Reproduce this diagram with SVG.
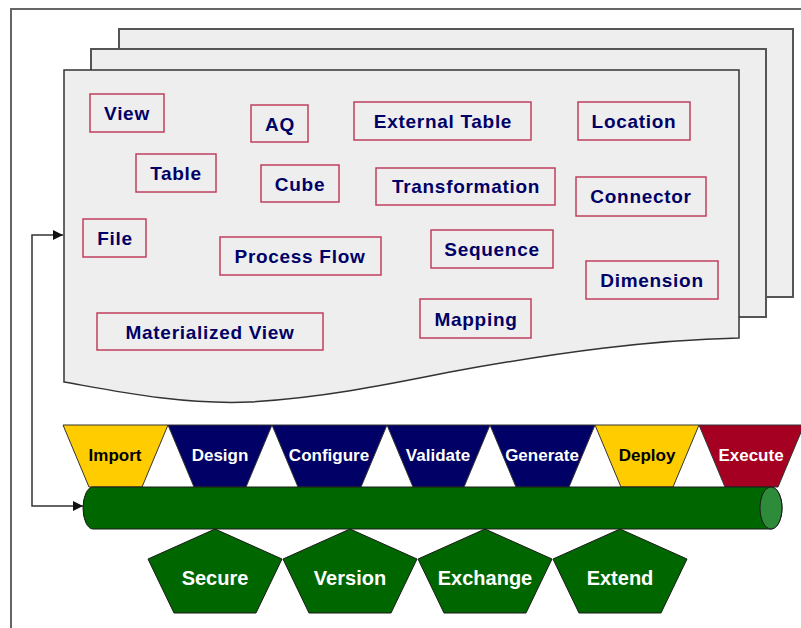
<svg xmlns="http://www.w3.org/2000/svg" width="801" height="628" viewBox="0 0 801 628">
  <style>
    .page { fill: #eeeeee; stroke: #555555; stroke-width: 2; }
    .front { fill: #eeeeee; stroke: #333333; stroke-width: 1.5; }
    .obj rect { fill: #eeeeee; stroke: #c0405f; stroke-width: 1.5; }
    .obj text { font-family: "Liberation Sans", Arial, sans-serif; font-weight: bold; font-size: 19px; letter-spacing: 0.7px; fill: #000066; text-anchor: middle; }
    .step path { stroke: #333333; stroke-width: 1; }
    .step text { font-family: "Liberation Sans", Arial, sans-serif; font-weight: bold; font-size: 17px; text-anchor: middle; }
    .yellow path { fill: #ffcc00; }
    .yellow text { fill: #000000; }
    .navy path { fill: #000066; }
    .navy text { fill: #ffffff; }
    .red path { fill: #a50021; }
    .red text { fill: #ffffff; }
    .svc path { fill: #006600; stroke: #1a1a1a; stroke-width: 1; }
    .svc text { font-family: "Liberation Sans", Arial, sans-serif; font-weight: bold; font-size: 20px; fill: #ffffff; text-anchor: middle; }
    .link { fill: none; stroke: #333333; stroke-width: 1.5; }
  </style>
  <defs>
    <marker id="arrow" viewBox="0 0 10 10" refX="10" refY="5" markerWidth="10" markerHeight="10" markerUnits="userSpaceOnUse" orient="auto-start-reverse">
      <path d="M0,0 L10,5 L0,10 Z" fill="#111111"/>
    </marker>
  </defs>

  <rect width="801" height="628" fill="#ffffff"/>
  <!-- outer frame -->
  <rect x="11" y="9" width="800" height="630" fill="none" stroke="#666666" stroke-width="2"/>

  <!-- stacked pages -->
  <g id="pages">
    <rect class="page" x="119" y="29" width="674" height="268"/>
    <rect class="page" x="91" y="49" width="675" height="268"/>
    <path class="front" d="M64,70 L739,70 L739,338 C650,340 560,352 450,372 C380,386 320,398 250,402 C180,405 110,390 64,382 Z"/>
  </g>

  <!-- repository objects -->
  <g id="obj-view" class="obj"><rect x="90" y="94" width="74" height="38"/><text x="127" y="120">View</text></g>
  <g id="obj-aq" class="obj"><rect x="251" y="105" width="57" height="37"/><text x="280" y="131">AQ</text></g>
  <g id="obj-external-table" class="obj"><rect x="354" y="102" width="177" height="38"/><text x="443" y="128">External Table</text></g>
  <g id="obj-location" class="obj"><rect x="578" y="102" width="112" height="38"/><text x="634" y="128">Location</text></g>
  <g id="obj-table" class="obj"><rect x="136" y="154" width="80" height="38"/><text x="176" y="180">Table</text></g>
  <g id="obj-cube" class="obj"><rect x="261" y="165" width="78" height="37"/><text x="300" y="191">Cube</text></g>
  <g id="obj-transformation" class="obj"><rect x="376" y="168" width="179" height="37"/><text x="466" y="193">Transformation</text></g>
  <g id="obj-connector" class="obj"><rect x="576" y="177" width="130" height="39"/><text x="641" y="203">Connector</text></g>
  <g id="obj-file" class="obj"><rect x="83" y="219" width="63" height="38"/><text x="115" y="245">File</text></g>
  <g id="obj-process-flow" class="obj"><rect x="220" y="237" width="161" height="38"/><text x="300" y="263">Process Flow</text></g>
  <g id="obj-sequence" class="obj"><rect x="431" y="230" width="122" height="38"/><text x="492" y="256">Sequence</text></g>
  <g id="obj-dimension" class="obj"><rect x="586" y="261" width="132" height="38"/><text x="652" y="287">Dimension</text></g>
  <g id="obj-materialized-view" class="obj"><rect x="97" y="313" width="226" height="37"/><text x="210" y="339">Materialized View</text></g>
  <g id="obj-mapping" class="obj"><rect x="420" y="299" width="111" height="39"/><text x="476" y="326">Mapping</text></g>

  <!-- lifecycle steps -->
  <g id="step-import" class="step yellow"><path d="M63,425 L168,425 L142,487 L89,487 Z"/><text x="115" y="461">Import</text></g>
  <g id="step-design" class="step navy"><path d="M168,425 L272,425 L246,487 L194,487 Z"/><text x="220" y="461">Design</text></g>
  <g id="step-configure" class="step navy"><path d="M272,425 L387,425 L361,487 L298,487 Z"/><text x="329" y="461">Configure</text></g>
  <g id="step-validate" class="step navy"><path d="M387,425 L490,425 L464,487 L413,487 Z"/><text x="438" y="461">Validate</text></g>
  <g id="step-generate" class="step navy"><path d="M490,425 L595,425 L569,487 L516,487 Z"/><text x="542" y="461">Generate</text></g>
  <g id="step-deploy" class="step yellow"><path d="M595,425 L699,425 L673,487 L621,487 Z"/><text x="647" y="461">Deploy</text></g>
  <g id="step-execute" class="step red"><path d="M699,425 L804,425 L778,487 L725,487 Z"/><text x="751" y="461">Execute</text></g>

  <!-- services -->
  <g id="svc-secure" class="svc"><path d="M215,529 L282,559 L256,613 L174,613 L148,559 Z"/><text x="215" y="585">Secure</text></g>
  <g id="svc-version" class="svc"><path d="M350,529 L417,559 L391,613 L309,613 L283,559 Z"/><text x="350" y="585">Version</text></g>
  <g id="svc-exchange" class="svc"><path d="M485,529 L552,559 L526,613 L444,613 L418,559 Z"/><text x="485" y="585">Exchange</text></g>
  <g id="svc-extend" class="svc"><path d="M620,529 L687,559 L661,613 L579,613 L553,559 Z"/><text x="620" y="585">Extend</text></g>

  <!-- repository bus -->
  <g id="bus">
    <path d="M93,487 L771,487 A11,21 0 0 1 771,529 L93,529 A10,21 0 0 1 93,487 Z" fill="#006600" stroke="#1a1a1a" stroke-width="1"/>
    <ellipse cx="771" cy="508" rx="11" ry="21" fill="#2e8b3a" stroke="#1a1a1a" stroke-width="1"/>
  </g>

  <!-- connectors -->
  <g id="connectors">
    <path class="link" d="M83,506 L32,506 L32,235 L63,235" marker-start="url(#arrow)" marker-end="url(#arrow)"/>
  </g>
</svg>
